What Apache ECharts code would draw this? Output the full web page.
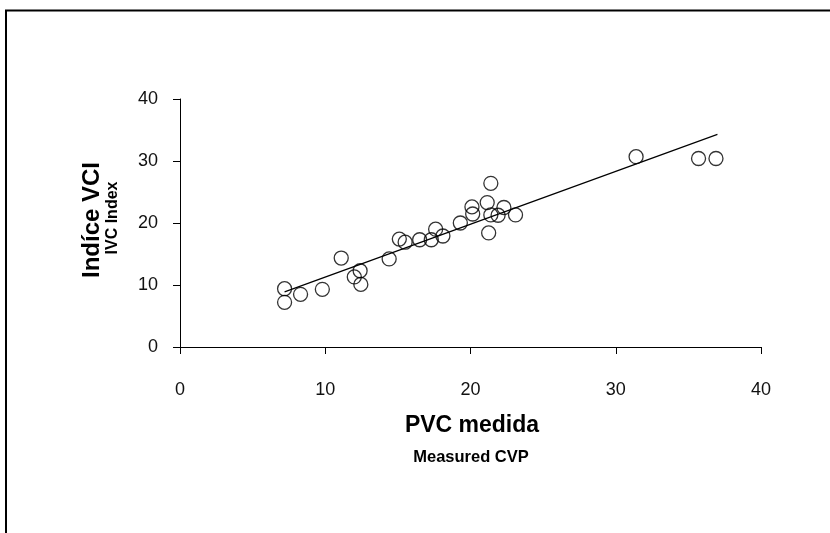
<!DOCTYPE html>
<html><head><meta charset="utf-8">
<script src="https://cdn.jsdelivr.net/npm/echarts@6/dist/echarts.min.js"></script>
<style>html,body{margin:0;padding:0;background:#fff}#c{width:830px;height:533px}</style>
</head><body><div id="c"></div>
<script>
var xValues = [7.2, 7.2, 8.3, 9.8, 11.1, 12.4, 12.0, 12.45, 14.4, 15.1, 15.5, 16.5, 17.3, 17.6, 18.1, 19.3, 20.1, 20.15, 21.15, 21.4, 21.4, 21.25, 21.9, 22.3, 23.1, 31.4, 35.7, 36.9];
var yValues = [9.4, 7.2, 8.5, 9.3, 14.35, 12.3, 11.3, 10.1, 14.2, 17.4, 16.9, 17.3, 17.3, 19.0, 17.9, 20.0, 22.6, 21.45, 23.3, 26.4, 21.3, 18.4, 21.25, 22.5, 21.3, 30.7, 30.4, 30.4];
var fitX = [7.2, 37.0];
var fitY = [8.9, 34.3];
var xTicks = [0, 10, 20, 30, 40];
var yTicks = [0, 10, 20, 30, 40];
var yTitle = 'Indíce VCI';
var ySub = 'IVC Index';
var xTitle = 'PVC medida';
var xSub = 'Measured CVP';

var pts = xValues.map(function (x, i) { return [x, yValues[i]]; });
var fit = fitX.map(function (x, i) { return [x, fitY[i]]; });
var font = '"Liberation Sans", Arial, sans-serif';

var chart = echarts.init(document.getElementById('c'));
chart.setOption({
  animation: false,
  backgroundColor: '#fff',
  grid: { left: 180, right: 69, top: 99, bottom: 186, containLabel: false },
  xAxis: {
    type: 'value', min: xTicks[0], max: xTicks[xTicks.length - 1], interval: 10,
    splitLine: { show: false },
    axisLine: { lineStyle: { color: '#000', width: 1 } },
    axisTick: { show: true, length: 7, lineStyle: { color: '#000' } },
    axisLabel: { color: '#111', fontSize: 18, fontFamily: font, margin: 34 }
  },
  yAxis: {
    type: 'value', min: yTicks[0], max: yTicks[yTicks.length - 1], interval: 10,
    splitLine: { show: false },
    axisLine: { show: true, lineStyle: { color: '#000', width: 1 } },
    axisTick: { show: true, length: 7, lineStyle: { color: '#000' } },
    axisLabel: { color: '#111', fontSize: 18, fontFamily: font, margin: 22 }
  },
  series: [
    {
      type: 'line', data: fit, symbol: 'none', silent: true,
      lineStyle: { color: '#000', width: 1.2 }, z: 2
    },
    {
      type: 'scatter', data: pts, symbol: 'circle', symbolSize: 14,
      itemStyle: { color: 'rgba(0,0,0,0)', borderColor: '#000', borderWidth: 1.3 }, z: 3
    }
  ],
  graphic: [
    { type: 'polyline', shape: { points: [[6, 533], [6, 10.5], [830, 10.5]] },
      style: { stroke: '#000', lineWidth: 2, fill: null } },
    { type: 'text', x: 92, y: 220, rotation: Math.PI / 2,
      style: { text: yTitle, font: 'bold 24px ' + font, fill: '#000', align: 'center', verticalAlign: 'middle' } },
    { type: 'text', x: 113, y: 218, rotation: Math.PI / 2,
      style: { text: ySub, font: 'bold 16px ' + font, fill: '#000', align: 'center', verticalAlign: 'middle' } },
    { type: 'text', x: 472, y: 426,
      style: { text: xTitle, font: 'bold 23px ' + font, fill: '#000', align: 'center', verticalAlign: 'middle' } },
    { type: 'text', x: 471, y: 457,
      style: { text: xSub, font: 'bold 16.5px ' + font, fill: '#000', align: 'center', verticalAlign: 'middle' } }
  ]
});
</script></body></html>
